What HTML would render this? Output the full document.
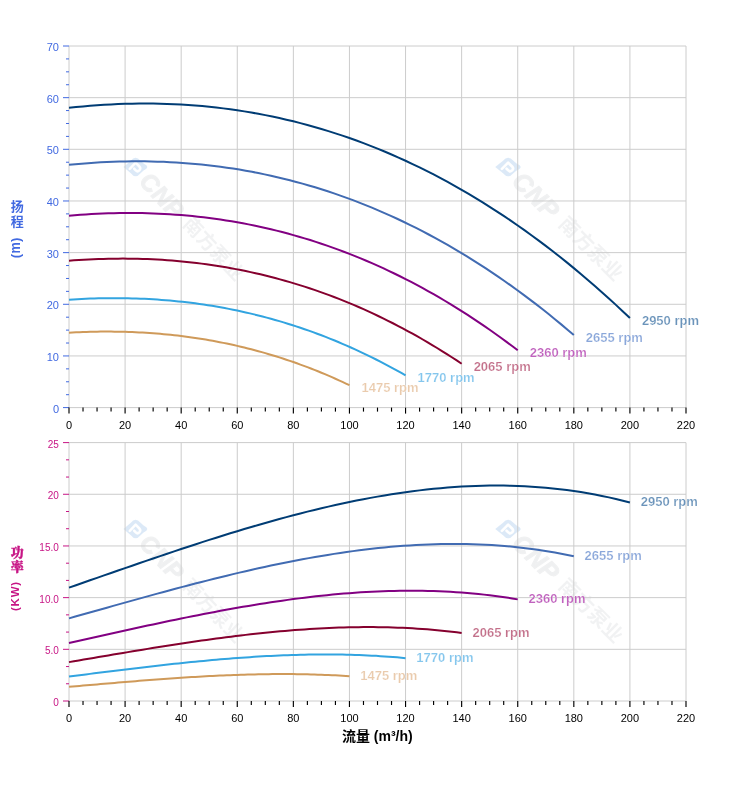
<!DOCTYPE html>
<html lang="zh"><head><meta charset="utf-8"><title>Pump curves</title>
<style>
html,body{margin:0;padding:0;background:#fff;}
svg{display:block;}
text{font-family:"Liberation Sans","Noto Sans CJK SC",sans-serif;}
.xl{font-size:11px;fill:#000;text-anchor:middle;}
.y1{font-size:11px;fill:#4169e1;text-anchor:end;}
.y2{font-size:10px;fill:#c71585;text-anchor:end;}
.lb{font-size:13px;font-weight:bold;stroke:#fff;stroke-width:0.2px;}
.g{stroke:#cccccc;stroke-width:1;fill:none;}
.c{fill:none;stroke-width:2;stroke-linecap:butt;stroke-linejoin:round;}
.wm{font-weight:bold;fill:#8a9aa8;}
</style></head><body>
<svg width="752" height="797" viewBox="0 0 752 797">
<rect width="752" height="797" fill="#fff"/>
<!-- chart 1 : head -->
<g transform="translate(135.5,167) scale(0.94,1) rotate(45)"><g opacity="0.19"><g transform="rotate(-45)"><path d="M-12.8,0 L-5,-6.3 Q0,-12.4 5.4,-6.2 L8.6,-3.5 Q16.6,0 8.6,3.5 L5.4,6.2 Q0,12.4 -5,6.3 Z" fill="#4a90d9"/></g><path d="M-3,5.6 V-3.2 H2.6 A2.7,2.7 0 0 1 2.6,2.2 H0.2" fill="none" stroke="#fff" stroke-width="2.7" stroke-linecap="round" stroke-linejoin="round"/></g><text x="13" y="9" font-size="25" font-weight="bold" font-style="italic" fill="#6f7780" stroke="#6f7780" stroke-width="1.1" letter-spacing="0.5" opacity="0.10">CNP</text><text x="76" y="6" font-size="20" font-weight="bold" fill="#7d858e" letter-spacing="0.3" opacity="0.10">南方泵业</text></g>
<g transform="translate(508,167) scale(1,1) rotate(45)"><g opacity="0.19"><g transform="rotate(-45)"><path d="M-12.8,0 L-5,-6.3 Q0,-12.4 5.4,-6.2 L8.6,-3.5 Q16.6,0 8.6,3.5 L5.4,6.2 Q0,12.4 -5,6.3 Z" fill="#4a90d9"/></g><path d="M-3,5.6 V-3.2 H2.6 A2.7,2.7 0 0 1 2.6,2.2 H0.2" fill="none" stroke="#fff" stroke-width="2.7" stroke-linecap="round" stroke-linejoin="round"/></g><text x="13" y="9" font-size="25" font-weight="bold" font-style="italic" fill="#6f7780" stroke="#6f7780" stroke-width="1.1" letter-spacing="0.5" opacity="0.10">CNP</text><text x="76" y="6" font-size="20" font-weight="bold" fill="#7d858e" letter-spacing="0.3" opacity="0.10">南方泵业</text></g>
<line class="g" x1="69" y1="46" x2="69" y2="407.6"/><line class="g" x1="125.09" y1="46" x2="125.09" y2="407.6"/><line class="g" x1="181.18" y1="46" x2="181.18" y2="407.6"/><line class="g" x1="237.27" y1="46" x2="237.27" y2="407.6"/><line class="g" x1="293.36" y1="46" x2="293.36" y2="407.6"/><line class="g" x1="349.45" y1="46" x2="349.45" y2="407.6"/><line class="g" x1="405.55" y1="46" x2="405.55" y2="407.6"/><line class="g" x1="461.64" y1="46" x2="461.64" y2="407.6"/><line class="g" x1="517.73" y1="46" x2="517.73" y2="407.6"/><line class="g" x1="573.82" y1="46" x2="573.82" y2="407.6"/><line class="g" x1="629.91" y1="46" x2="629.91" y2="407.6"/><line class="g" x1="686" y1="46" x2="686" y2="407.6"/>
<line class="g" x1="69" y1="407.6" x2="686" y2="407.6"/><line class="g" x1="69" y1="355.94" x2="686" y2="355.94"/><line class="g" x1="69" y1="304.29" x2="686" y2="304.29"/><line class="g" x1="69" y1="252.63" x2="686" y2="252.63"/><line class="g" x1="69" y1="200.97" x2="686" y2="200.97"/><line class="g" x1="69" y1="149.31" x2="686" y2="149.31"/><line class="g" x1="69" y1="97.66" x2="686" y2="97.66"/><line class="g" x1="69" y1="46" x2="686" y2="46"/>
<line x1="63" y1="407.6" x2="69" y2="407.6" stroke="#4169e1" stroke-width="1"/><line x1="66" y1="394.69" x2="69" y2="394.69" stroke="#4169e1" stroke-width="1"/><line x1="66" y1="381.77" x2="69" y2="381.77" stroke="#4169e1" stroke-width="1"/><line x1="66" y1="368.86" x2="69" y2="368.86" stroke="#4169e1" stroke-width="1"/><line x1="63" y1="355.94" x2="69" y2="355.94" stroke="#4169e1" stroke-width="1"/><line x1="66" y1="343.03" x2="69" y2="343.03" stroke="#4169e1" stroke-width="1"/><line x1="66" y1="330.11" x2="69" y2="330.11" stroke="#4169e1" stroke-width="1"/><line x1="66" y1="317.2" x2="69" y2="317.2" stroke="#4169e1" stroke-width="1"/><line x1="63" y1="304.29" x2="69" y2="304.29" stroke="#4169e1" stroke-width="1"/><line x1="66" y1="291.37" x2="69" y2="291.37" stroke="#4169e1" stroke-width="1"/><line x1="66" y1="278.46" x2="69" y2="278.46" stroke="#4169e1" stroke-width="1"/><line x1="66" y1="265.54" x2="69" y2="265.54" stroke="#4169e1" stroke-width="1"/><line x1="63" y1="252.63" x2="69" y2="252.63" stroke="#4169e1" stroke-width="1"/><line x1="66" y1="239.71" x2="69" y2="239.71" stroke="#4169e1" stroke-width="1"/><line x1="66" y1="226.8" x2="69" y2="226.8" stroke="#4169e1" stroke-width="1"/><line x1="66" y1="213.89" x2="69" y2="213.89" stroke="#4169e1" stroke-width="1"/><line x1="63" y1="200.97" x2="69" y2="200.97" stroke="#4169e1" stroke-width="1"/><line x1="66" y1="188.06" x2="69" y2="188.06" stroke="#4169e1" stroke-width="1"/><line x1="66" y1="175.14" x2="69" y2="175.14" stroke="#4169e1" stroke-width="1"/><line x1="66" y1="162.23" x2="69" y2="162.23" stroke="#4169e1" stroke-width="1"/><line x1="63" y1="149.31" x2="69" y2="149.31" stroke="#4169e1" stroke-width="1"/><line x1="66" y1="136.4" x2="69" y2="136.4" stroke="#4169e1" stroke-width="1"/><line x1="66" y1="123.49" x2="69" y2="123.49" stroke="#4169e1" stroke-width="1"/><line x1="66" y1="110.57" x2="69" y2="110.57" stroke="#4169e1" stroke-width="1"/><line x1="63" y1="97.66" x2="69" y2="97.66" stroke="#4169e1" stroke-width="1"/><line x1="66" y1="84.74" x2="69" y2="84.74" stroke="#4169e1" stroke-width="1"/><line x1="66" y1="71.83" x2="69" y2="71.83" stroke="#4169e1" stroke-width="1"/><line x1="66" y1="58.91" x2="69" y2="58.91" stroke="#4169e1" stroke-width="1"/><line x1="63" y1="46" x2="69" y2="46" stroke="#4169e1" stroke-width="1"/>
<text class="y1" x="59" y="412.6">0</text><text class="y1" x="59" y="360.94">10</text><text class="y1" x="59" y="309.29">20</text><text class="y1" x="59" y="257.63">30</text><text class="y1" x="59" y="205.97">40</text><text class="y1" x="59" y="154.31">50</text><text class="y1" x="59" y="102.66">60</text><text class="y1" x="59" y="51">70</text>
<line x1="69" y1="407.6" x2="69" y2="413.6" stroke="#000" stroke-width="1.15"/><line x1="83.02" y1="407.6" x2="83.02" y2="411.6" stroke="#000" stroke-width="1.15"/><line x1="97.05" y1="407.6" x2="97.05" y2="411.6" stroke="#000" stroke-width="1.15"/><line x1="111.07" y1="407.6" x2="111.07" y2="411.6" stroke="#000" stroke-width="1.15"/><line x1="125.09" y1="407.6" x2="125.09" y2="413.6" stroke="#000" stroke-width="1.15"/><line x1="139.11" y1="407.6" x2="139.11" y2="411.6" stroke="#000" stroke-width="1.15"/><line x1="153.14" y1="407.6" x2="153.14" y2="411.6" stroke="#000" stroke-width="1.15"/><line x1="167.16" y1="407.6" x2="167.16" y2="411.6" stroke="#000" stroke-width="1.15"/><line x1="181.18" y1="407.6" x2="181.18" y2="413.6" stroke="#000" stroke-width="1.15"/><line x1="195.2" y1="407.6" x2="195.2" y2="411.6" stroke="#000" stroke-width="1.15"/><line x1="209.23" y1="407.6" x2="209.23" y2="411.6" stroke="#000" stroke-width="1.15"/><line x1="223.25" y1="407.6" x2="223.25" y2="411.6" stroke="#000" stroke-width="1.15"/><line x1="237.27" y1="407.6" x2="237.27" y2="413.6" stroke="#000" stroke-width="1.15"/><line x1="251.3" y1="407.6" x2="251.3" y2="411.6" stroke="#000" stroke-width="1.15"/><line x1="265.32" y1="407.6" x2="265.32" y2="411.6" stroke="#000" stroke-width="1.15"/><line x1="279.34" y1="407.6" x2="279.34" y2="411.6" stroke="#000" stroke-width="1.15"/><line x1="293.36" y1="407.6" x2="293.36" y2="413.6" stroke="#000" stroke-width="1.15"/><line x1="307.39" y1="407.6" x2="307.39" y2="411.6" stroke="#000" stroke-width="1.15"/><line x1="321.41" y1="407.6" x2="321.41" y2="411.6" stroke="#000" stroke-width="1.15"/><line x1="335.43" y1="407.6" x2="335.43" y2="411.6" stroke="#000" stroke-width="1.15"/><line x1="349.45" y1="407.6" x2="349.45" y2="413.6" stroke="#000" stroke-width="1.15"/><line x1="363.48" y1="407.6" x2="363.48" y2="411.6" stroke="#000" stroke-width="1.15"/><line x1="377.5" y1="407.6" x2="377.5" y2="411.6" stroke="#000" stroke-width="1.15"/><line x1="391.52" y1="407.6" x2="391.52" y2="411.6" stroke="#000" stroke-width="1.15"/><line x1="405.55" y1="407.6" x2="405.55" y2="413.6" stroke="#000" stroke-width="1.15"/><line x1="419.57" y1="407.6" x2="419.57" y2="411.6" stroke="#000" stroke-width="1.15"/><line x1="433.59" y1="407.6" x2="433.59" y2="411.6" stroke="#000" stroke-width="1.15"/><line x1="447.61" y1="407.6" x2="447.61" y2="411.6" stroke="#000" stroke-width="1.15"/><line x1="461.64" y1="407.6" x2="461.64" y2="413.6" stroke="#000" stroke-width="1.15"/><line x1="475.66" y1="407.6" x2="475.66" y2="411.6" stroke="#000" stroke-width="1.15"/><line x1="489.68" y1="407.6" x2="489.68" y2="411.6" stroke="#000" stroke-width="1.15"/><line x1="503.7" y1="407.6" x2="503.7" y2="411.6" stroke="#000" stroke-width="1.15"/><line x1="517.73" y1="407.6" x2="517.73" y2="413.6" stroke="#000" stroke-width="1.15"/><line x1="531.75" y1="407.6" x2="531.75" y2="411.6" stroke="#000" stroke-width="1.15"/><line x1="545.77" y1="407.6" x2="545.77" y2="411.6" stroke="#000" stroke-width="1.15"/><line x1="559.8" y1="407.6" x2="559.8" y2="411.6" stroke="#000" stroke-width="1.15"/><line x1="573.82" y1="407.6" x2="573.82" y2="413.6" stroke="#000" stroke-width="1.15"/><line x1="587.84" y1="407.6" x2="587.84" y2="411.6" stroke="#000" stroke-width="1.15"/><line x1="601.86" y1="407.6" x2="601.86" y2="411.6" stroke="#000" stroke-width="1.15"/><line x1="615.89" y1="407.6" x2="615.89" y2="411.6" stroke="#000" stroke-width="1.15"/><line x1="629.91" y1="407.6" x2="629.91" y2="413.6" stroke="#000" stroke-width="1.15"/><line x1="643.93" y1="407.6" x2="643.93" y2="411.6" stroke="#000" stroke-width="1.15"/><line x1="657.95" y1="407.6" x2="657.95" y2="411.6" stroke="#000" stroke-width="1.15"/><line x1="671.98" y1="407.6" x2="671.98" y2="411.6" stroke="#000" stroke-width="1.15"/><line x1="686" y1="407.6" x2="686" y2="413.6" stroke="#000" stroke-width="1.15"/>
<text class="xl" x="69" y="429">0</text><text class="xl" x="125.09" y="429">20</text><text class="xl" x="181.18" y="429">40</text><text class="xl" x="237.27" y="429">60</text><text class="xl" x="293.36" y="429">80</text><text class="xl" x="349.45" y="429">100</text><text class="xl" x="405.55" y="429">120</text><text class="xl" x="461.64" y="429">140</text><text class="xl" x="517.73" y="429">160</text><text class="xl" x="573.82" y="429">180</text><text class="xl" x="629.91" y="429">200</text><text class="xl" x="686" y="429">220</text>
<polyline class="c" stroke="#003c74" points="69,107.84 76.01,107.1 83.02,106.43 90.03,105.82 97.05,105.29 104.06,104.82 111.07,104.43 118.08,104.11 125.09,103.86 132.1,103.69 139.11,103.59 146.12,103.56 153.14,103.61 160.15,103.73 167.16,103.93 174.17,104.21 181.18,104.57 188.19,105 195.2,105.51 202.22,106.1 209.23,106.78 216.24,107.53 223.25,108.37 230.26,109.28 237.27,110.28 244.28,111.37 251.3,112.53 258.31,113.79 265.32,115.12 272.33,116.55 279.34,118.06 286.35,119.65 293.36,121.34 300.38,123.11 307.39,124.97 314.4,126.93 321.41,128.97 328.42,131.1 335.43,133.33 342.44,135.65 349.45,138.06 356.47,140.56 363.48,143.16 370.49,145.86 377.5,148.64 384.51,151.53 391.52,154.51 398.53,157.59 405.55,160.77 412.56,164.05 419.57,167.42 426.58,170.9 433.59,174.47 440.6,178.15 447.61,181.93 454.62,185.81 461.64,189.8 468.65,193.89 475.66,198.08 482.67,202.38 489.68,206.78 496.69,211.3 503.7,215.91 510.72,220.64 517.73,225.47 524.74,230.41 531.75,235.47 538.76,240.63 545.77,245.9 552.78,251.29 559.8,256.78 566.81,262.39 573.82,268.11 580.83,273.95 587.84,279.9 594.85,285.97 601.86,292.15 608.88,298.45 615.89,304.87 622.9,311.4 629.91,318.05"/>
<text class="lb" fill="#6a93ba" x="641.91" y="325.15">2950 rpm</text>
<polyline class="c" stroke="#416bb2" points="69,164.8 75.31,164.19 81.62,163.65 87.93,163.16 94.24,162.73 100.55,162.35 106.86,162.03 113.17,161.77 119.48,161.57 125.79,161.43 132.1,161.35 138.41,161.33 144.72,161.37 151.03,161.47 157.34,161.63 163.65,161.85 169.96,162.14 176.27,162.49 182.58,162.91 188.89,163.39 195.2,163.93 201.51,164.54 207.82,165.22 214.14,165.96 220.45,166.77 226.76,167.65 233.07,168.6 239.38,169.61 245.69,170.69 252,171.85 258.31,173.07 264.62,174.36 270.93,175.73 277.24,177.16 283.55,178.67 289.86,180.25 296.17,181.91 302.48,183.64 308.79,185.44 315.1,187.32 321.41,189.27 327.72,191.3 334.03,193.41 340.34,195.59 346.65,197.85 352.96,200.18 359.27,202.6 365.58,205.09 371.89,207.67 378.2,210.32 384.51,213.06 390.82,215.87 397.13,218.77 403.44,221.75 409.75,224.81 416.06,227.95 422.37,231.18 428.68,234.49 434.99,237.89 441.3,241.37 447.61,244.94 453.92,248.59 460.23,252.33 466.54,256.16 472.85,260.08 479.16,264.08 485.48,268.17 491.79,272.35 498.1,276.62 504.41,280.99 510.72,285.44 517.03,289.98 523.34,294.62 529.65,299.34 535.96,304.16 542.27,309.08 548.58,314.09 554.89,319.19 561.2,324.39 567.51,329.68 573.82,335.07"/>
<text class="lb" fill="#8aa7da" x="585.82" y="342.17">2655 rpm</text>
<polyline class="c" stroke="#820082" points="69,215.76 74.61,215.28 80.22,214.85 85.83,214.46 91.44,214.12 97.05,213.82 102.65,213.57 108.26,213.37 113.87,213.21 119.48,213.1 125.09,213.03 130.7,213.01 136.31,213.04 141.92,213.12 147.53,213.25 153.14,213.43 158.75,213.66 164.35,213.94 169.96,214.26 175.57,214.64 181.18,215.07 186.79,215.56 192.4,216.09 198.01,216.68 203.62,217.32 209.23,218.01 214.84,218.76 220.45,219.56 226.05,220.41 231.66,221.33 237.27,222.29 242.88,223.31 248.49,224.39 254.1,225.53 259.71,226.72 265.32,227.97 270.93,229.28 276.54,230.64 282.15,232.07 287.75,233.55 293.36,235.09 298.97,236.7 304.58,238.36 310.19,240.08 315.8,241.87 321.41,243.72 327.02,245.62 332.63,247.6 338.24,249.63 343.85,251.73 349.45,253.89 355.06,256.11 360.67,258.4 366.28,260.75 371.89,263.17 377.5,265.66 383.11,268.21 388.72,270.82 394.33,273.51 399.94,276.26 405.55,279.08 411.15,281.96 416.76,284.92 422.37,287.94 427.98,291.04 433.59,294.2 439.2,297.43 444.81,300.74 450.42,304.11 456.03,307.56 461.64,311.08 467.25,314.67 472.85,318.33 478.46,322.06 484.07,325.87 489.68,329.76 495.29,333.71 500.9,337.74 506.51,341.85 512.12,346.03 517.73,350.29"/>
<text class="lb" fill="#c062be" x="529.73" y="357.39">2360 rpm</text>
<polyline class="c" stroke="#85002e" points="69,260.72 73.91,260.35 78.82,260.02 83.72,259.73 88.63,259.47 93.54,259.24 98.45,259.05 103.36,258.89 108.26,258.77 113.17,258.68 118.08,258.63 122.99,258.62 127.9,258.64 132.8,258.7 137.71,258.8 142.62,258.94 147.53,259.11 152.44,259.33 157.34,259.58 162.25,259.87 167.16,260.2 172.07,260.57 176.97,260.98 181.88,261.42 186.79,261.91 191.7,262.45 196.61,263.02 201.51,263.63 206.42,264.29 211.33,264.98 216.24,265.72 221.15,266.51 226.05,267.33 230.96,268.2 235.87,269.11 240.78,270.07 245.69,271.07 250.59,272.12 255.5,273.21 260.41,274.34 265.32,275.52 270.23,276.75 275.13,278.03 280.04,279.35 284.95,280.71 289.86,282.13 294.77,283.59 299.67,285.1 304.58,286.65 309.49,288.26 314.4,289.91 319.31,291.62 324.21,293.37 329.12,295.17 334.03,297.02 338.94,298.92 343.85,300.88 348.75,302.88 353.66,304.94 358.57,307.04 363.48,309.2 368.39,311.41 373.29,313.67 378.2,315.99 383.11,318.36 388.02,320.78 392.93,323.25 397.83,325.78 402.74,328.37 407.65,331.01 412.56,333.7 417.46,336.45 422.37,339.25 427.28,342.11 432.19,345.03 437.1,348 442,351.03 446.91,354.12 451.82,357.26 456.73,360.46 461.64,363.72"/>
<text class="lb" fill="#c3708a" x="473.64" y="370.82">2065 rpm</text>
<polyline class="c" stroke="#32a4e0" points="69,299.69 73.21,299.42 77.41,299.18 81.62,298.96 85.83,298.77 90.03,298.6 94.24,298.46 98.45,298.34 102.65,298.25 106.86,298.19 111.07,298.15 115.28,298.15 119.48,298.16 123.69,298.21 127.9,298.28 132.1,298.38 136.31,298.51 140.52,298.66 144.72,298.85 148.93,299.06 153.14,299.3 157.34,299.58 161.55,299.88 165.76,300.21 169.96,300.57 174.17,300.96 178.38,301.38 182.58,301.83 186.79,302.31 191,302.82 195.2,303.36 199.41,303.94 203.62,304.55 207.82,305.18 212.03,305.85 216.24,306.56 220.45,307.29 224.65,308.06 228.86,308.86 233.07,309.7 237.27,310.57 241.48,311.47 245.69,312.4 249.89,313.37 254.1,314.38 258.31,315.41 262.51,316.49 266.72,317.6 270.93,318.74 275.13,319.92 279.34,321.14 283.55,322.39 287.75,323.67 291.96,325 296.17,326.36 300.38,327.76 304.58,329.19 308.79,330.66 313,332.17 317.2,333.72 321.41,335.31 325.62,336.93 329.82,338.59 334.03,340.29 338.24,342.03 342.44,343.81 346.65,345.63 350.86,347.49 355.06,349.39 359.27,351.33 363.48,353.31 367.68,355.32 371.89,357.39 376.1,359.49 380.3,361.63 384.51,363.81 388.72,366.04 392.93,368.31 397.13,370.62 401.34,372.97 405.55,375.36"/>
<text class="lb" fill="#84c6ed" x="417.55" y="382.46">1770 rpm</text>
<polyline class="c" stroke="#cf9a5a" points="69,332.66 72.51,332.47 76.01,332.31 79.52,332.16 83.02,332.02 86.53,331.91 90.03,331.81 93.54,331.73 97.05,331.67 100.55,331.62 104.06,331.6 107.56,331.59 111.07,331.6 114.57,331.63 118.08,331.68 121.59,331.75 125.09,331.84 128.6,331.95 132.1,332.08 135.61,332.23 139.11,332.39 142.62,332.58 146.12,332.79 149.63,333.02 153.14,333.27 156.64,333.54 160.15,333.83 163.65,334.15 167.16,334.48 170.66,334.84 174.17,335.21 177.68,335.61 181.18,336.03 184.69,336.48 188.19,336.94 191.7,337.43 195.2,337.94 198.71,338.48 202.22,339.03 205.72,339.61 209.23,340.21 212.73,340.84 216.24,341.49 219.74,342.16 223.25,342.86 226.76,343.58 230.26,344.33 233.77,345.1 237.27,345.89 240.78,346.71 244.28,347.56 247.79,348.42 251.3,349.32 254.8,350.24 258.31,351.18 261.81,352.15 265.32,353.15 268.82,354.17 272.33,355.22 275.84,356.3 279.34,357.4 282.85,358.52 286.35,359.68 289.86,360.86 293.36,362.07 296.87,363.3 300.38,364.57 303.88,365.86 307.39,367.18 310.89,368.52 314.4,369.9 317.9,371.3 321.41,372.73 324.91,374.19 328.42,375.68 331.93,377.19 335.43,378.74 338.94,380.31 342.44,381.92 345.95,383.55 349.45,385.21"/>
<text class="lb" fill="#eacbad" x="361.45" y="392.31">1475 rpm</text>
<!-- chart 2 : power -->
<g transform="translate(135.5,529) scale(0.94,1) rotate(45)"><g opacity="0.19"><g transform="rotate(-45)"><path d="M-12.8,0 L-5,-6.3 Q0,-12.4 5.4,-6.2 L8.6,-3.5 Q16.6,0 8.6,3.5 L5.4,6.2 Q0,12.4 -5,6.3 Z" fill="#4a90d9"/></g><path d="M-3,5.6 V-3.2 H2.6 A2.7,2.7 0 0 1 2.6,2.2 H0.2" fill="none" stroke="#fff" stroke-width="2.7" stroke-linecap="round" stroke-linejoin="round"/></g><text x="13" y="9" font-size="25" font-weight="bold" font-style="italic" fill="#6f7780" stroke="#6f7780" stroke-width="1.1" letter-spacing="0.5" opacity="0.10">CNP</text><text x="76" y="6" font-size="20" font-weight="bold" fill="#7d858e" letter-spacing="0.3" opacity="0.10">南方泵业</text></g>
<g transform="translate(508,529) scale(1,1) rotate(45)"><g opacity="0.19"><g transform="rotate(-45)"><path d="M-12.8,0 L-5,-6.3 Q0,-12.4 5.4,-6.2 L8.6,-3.5 Q16.6,0 8.6,3.5 L5.4,6.2 Q0,12.4 -5,6.3 Z" fill="#4a90d9"/></g><path d="M-3,5.6 V-3.2 H2.6 A2.7,2.7 0 0 1 2.6,2.2 H0.2" fill="none" stroke="#fff" stroke-width="2.7" stroke-linecap="round" stroke-linejoin="round"/></g><text x="13" y="9" font-size="25" font-weight="bold" font-style="italic" fill="#6f7780" stroke="#6f7780" stroke-width="1.1" letter-spacing="0.5" opacity="0.10">CNP</text><text x="76" y="6" font-size="20" font-weight="bold" fill="#7d858e" letter-spacing="0.3" opacity="0.10">南方泵业</text></g>
<line class="g" x1="69" y1="442.6" x2="69" y2="701"/><line class="g" x1="125.09" y1="442.6" x2="125.09" y2="701"/><line class="g" x1="181.18" y1="442.6" x2="181.18" y2="701"/><line class="g" x1="237.27" y1="442.6" x2="237.27" y2="701"/><line class="g" x1="293.36" y1="442.6" x2="293.36" y2="701"/><line class="g" x1="349.45" y1="442.6" x2="349.45" y2="701"/><line class="g" x1="405.55" y1="442.6" x2="405.55" y2="701"/><line class="g" x1="461.64" y1="442.6" x2="461.64" y2="701"/><line class="g" x1="517.73" y1="442.6" x2="517.73" y2="701"/><line class="g" x1="573.82" y1="442.6" x2="573.82" y2="701"/><line class="g" x1="629.91" y1="442.6" x2="629.91" y2="701"/><line class="g" x1="686" y1="442.6" x2="686" y2="701"/>
<line class="g" x1="69" y1="701" x2="686" y2="701"/><line class="g" x1="69" y1="649.32" x2="686" y2="649.32"/><line class="g" x1="69" y1="597.64" x2="686" y2="597.64"/><line class="g" x1="69" y1="545.96" x2="686" y2="545.96"/><line class="g" x1="69" y1="494.28" x2="686" y2="494.28"/><line class="g" x1="69" y1="442.6" x2="686" y2="442.6"/>
<line x1="63" y1="701" x2="69" y2="701" stroke="#c71585" stroke-width="1"/><line x1="66" y1="683.77" x2="69" y2="683.77" stroke="#c71585" stroke-width="1"/><line x1="66" y1="666.55" x2="69" y2="666.55" stroke="#c71585" stroke-width="1"/><line x1="63" y1="649.32" x2="69" y2="649.32" stroke="#c71585" stroke-width="1"/><line x1="66" y1="632.09" x2="69" y2="632.09" stroke="#c71585" stroke-width="1"/><line x1="66" y1="614.87" x2="69" y2="614.87" stroke="#c71585" stroke-width="1"/><line x1="63" y1="597.64" x2="69" y2="597.64" stroke="#c71585" stroke-width="1"/><line x1="66" y1="580.41" x2="69" y2="580.41" stroke="#c71585" stroke-width="1"/><line x1="66" y1="563.19" x2="69" y2="563.19" stroke="#c71585" stroke-width="1"/><line x1="63" y1="545.96" x2="69" y2="545.96" stroke="#c71585" stroke-width="1"/><line x1="66" y1="528.73" x2="69" y2="528.73" stroke="#c71585" stroke-width="1"/><line x1="66" y1="511.51" x2="69" y2="511.51" stroke="#c71585" stroke-width="1"/><line x1="63" y1="494.28" x2="69" y2="494.28" stroke="#c71585" stroke-width="1"/><line x1="66" y1="477.05" x2="69" y2="477.05" stroke="#c71585" stroke-width="1"/><line x1="66" y1="459.83" x2="69" y2="459.83" stroke="#c71585" stroke-width="1"/><line x1="63" y1="442.6" x2="69" y2="442.6" stroke="#c71585" stroke-width="1"/>
<text class="y2" x="58.8" y="706">0</text><text class="y2" x="58.8" y="654.32">5.0</text><text class="y2" x="58.8" y="602.64">10.0</text><text class="y2" x="58.8" y="550.96">15.0</text><text class="y2" x="58.8" y="499.28">20</text><text class="y2" x="58.8" y="447.6">25</text>
<line x1="69" y1="701" x2="69" y2="707" stroke="#000" stroke-width="1.15"/><line x1="83.02" y1="701" x2="83.02" y2="705" stroke="#000" stroke-width="1.15"/><line x1="97.05" y1="701" x2="97.05" y2="705" stroke="#000" stroke-width="1.15"/><line x1="111.07" y1="701" x2="111.07" y2="705" stroke="#000" stroke-width="1.15"/><line x1="125.09" y1="701" x2="125.09" y2="707" stroke="#000" stroke-width="1.15"/><line x1="139.11" y1="701" x2="139.11" y2="705" stroke="#000" stroke-width="1.15"/><line x1="153.14" y1="701" x2="153.14" y2="705" stroke="#000" stroke-width="1.15"/><line x1="167.16" y1="701" x2="167.16" y2="705" stroke="#000" stroke-width="1.15"/><line x1="181.18" y1="701" x2="181.18" y2="707" stroke="#000" stroke-width="1.15"/><line x1="195.2" y1="701" x2="195.2" y2="705" stroke="#000" stroke-width="1.15"/><line x1="209.23" y1="701" x2="209.23" y2="705" stroke="#000" stroke-width="1.15"/><line x1="223.25" y1="701" x2="223.25" y2="705" stroke="#000" stroke-width="1.15"/><line x1="237.27" y1="701" x2="237.27" y2="707" stroke="#000" stroke-width="1.15"/><line x1="251.3" y1="701" x2="251.3" y2="705" stroke="#000" stroke-width="1.15"/><line x1="265.32" y1="701" x2="265.32" y2="705" stroke="#000" stroke-width="1.15"/><line x1="279.34" y1="701" x2="279.34" y2="705" stroke="#000" stroke-width="1.15"/><line x1="293.36" y1="701" x2="293.36" y2="707" stroke="#000" stroke-width="1.15"/><line x1="307.39" y1="701" x2="307.39" y2="705" stroke="#000" stroke-width="1.15"/><line x1="321.41" y1="701" x2="321.41" y2="705" stroke="#000" stroke-width="1.15"/><line x1="335.43" y1="701" x2="335.43" y2="705" stroke="#000" stroke-width="1.15"/><line x1="349.45" y1="701" x2="349.45" y2="707" stroke="#000" stroke-width="1.15"/><line x1="363.48" y1="701" x2="363.48" y2="705" stroke="#000" stroke-width="1.15"/><line x1="377.5" y1="701" x2="377.5" y2="705" stroke="#000" stroke-width="1.15"/><line x1="391.52" y1="701" x2="391.52" y2="705" stroke="#000" stroke-width="1.15"/><line x1="405.55" y1="701" x2="405.55" y2="707" stroke="#000" stroke-width="1.15"/><line x1="419.57" y1="701" x2="419.57" y2="705" stroke="#000" stroke-width="1.15"/><line x1="433.59" y1="701" x2="433.59" y2="705" stroke="#000" stroke-width="1.15"/><line x1="447.61" y1="701" x2="447.61" y2="705" stroke="#000" stroke-width="1.15"/><line x1="461.64" y1="701" x2="461.64" y2="707" stroke="#000" stroke-width="1.15"/><line x1="475.66" y1="701" x2="475.66" y2="705" stroke="#000" stroke-width="1.15"/><line x1="489.68" y1="701" x2="489.68" y2="705" stroke="#000" stroke-width="1.15"/><line x1="503.7" y1="701" x2="503.7" y2="705" stroke="#000" stroke-width="1.15"/><line x1="517.73" y1="701" x2="517.73" y2="707" stroke="#000" stroke-width="1.15"/><line x1="531.75" y1="701" x2="531.75" y2="705" stroke="#000" stroke-width="1.15"/><line x1="545.77" y1="701" x2="545.77" y2="705" stroke="#000" stroke-width="1.15"/><line x1="559.8" y1="701" x2="559.8" y2="705" stroke="#000" stroke-width="1.15"/><line x1="573.82" y1="701" x2="573.82" y2="707" stroke="#000" stroke-width="1.15"/><line x1="587.84" y1="701" x2="587.84" y2="705" stroke="#000" stroke-width="1.15"/><line x1="601.86" y1="701" x2="601.86" y2="705" stroke="#000" stroke-width="1.15"/><line x1="615.89" y1="701" x2="615.89" y2="705" stroke="#000" stroke-width="1.15"/><line x1="629.91" y1="701" x2="629.91" y2="707" stroke="#000" stroke-width="1.15"/><line x1="643.93" y1="701" x2="643.93" y2="705" stroke="#000" stroke-width="1.15"/><line x1="657.95" y1="701" x2="657.95" y2="705" stroke="#000" stroke-width="1.15"/><line x1="671.98" y1="701" x2="671.98" y2="705" stroke="#000" stroke-width="1.15"/><line x1="686" y1="701" x2="686" y2="707" stroke="#000" stroke-width="1.15"/>
<text class="xl" x="69" y="722.4">0</text><text class="xl" x="125.09" y="722.4">20</text><text class="xl" x="181.18" y="722.4">40</text><text class="xl" x="237.27" y="722.4">60</text><text class="xl" x="293.36" y="722.4">80</text><text class="xl" x="349.45" y="722.4">100</text><text class="xl" x="405.55" y="722.4">120</text><text class="xl" x="461.64" y="722.4">140</text><text class="xl" x="517.73" y="722.4">160</text><text class="xl" x="573.82" y="722.4">180</text><text class="xl" x="629.91" y="722.4">200</text><text class="xl" x="686" y="722.4">220</text>
<polyline class="c" stroke="#003c74" points="69,587.63 76.01,585.2 83.02,582.76 90.03,580.31 97.05,577.87 104.06,575.43 111.07,572.99 118.08,570.55 125.09,568.12 132.1,565.7 139.11,563.29 146.12,560.88 153.14,558.49 160.15,556.11 167.16,553.74 174.17,551.39 181.18,549.06 188.19,546.74 195.2,544.44 202.22,542.17 209.23,539.92 216.24,537.69 223.25,535.49 230.26,533.32 237.27,531.18 244.28,529.06 251.3,526.98 258.31,524.93 265.32,522.92 272.33,520.94 279.34,519 286.35,517.1 293.36,515.24 300.38,513.42 307.39,511.65 314.4,509.92 321.41,508.23 328.42,506.6 335.43,505.01 342.44,503.48 349.45,502 356.47,500.57 363.48,499.2 370.49,497.88 377.5,496.62 384.51,495.42 391.52,494.29 398.53,493.21 405.55,492.2 412.56,491.26 419.57,490.38 426.58,489.57 433.59,488.83 440.6,488.16 447.61,487.57 454.62,487.05 461.64,486.6 468.65,486.24 475.66,485.95 482.67,485.74 489.68,485.61 496.69,485.57 503.7,485.61 510.72,485.74 517.73,485.95 524.74,486.26 531.75,486.65 538.76,487.14 545.77,487.72 552.78,488.4 559.8,489.17 566.81,490.04 573.82,491.01 580.83,492.08 587.84,493.25 594.85,494.52 601.86,495.91 608.88,497.39 615.89,498.99 622.9,500.7 629.91,502.51"/>
<text class="lb" fill="#6a93ba" x="640.71" y="506.21">2950 rpm</text>
<polyline class="c" stroke="#416bb2" points="69,618.36 75.31,616.58 81.62,614.8 87.93,613.02 94.24,611.24 100.55,609.46 106.86,607.68 113.17,605.91 119.48,604.13 125.79,602.37 132.1,600.61 138.41,598.85 144.72,597.11 151.03,595.37 157.34,593.65 163.65,591.93 169.96,590.23 176.27,588.54 182.58,586.87 188.89,585.21 195.2,583.57 201.51,581.95 207.82,580.35 214.14,578.76 220.45,577.2 226.76,575.66 233.07,574.14 239.38,572.65 245.69,571.18 252,569.74 258.31,568.32 264.62,566.94 270.93,565.58 277.24,564.26 283.55,562.96 289.86,561.7 296.17,560.47 302.48,559.28 308.79,558.13 315.1,557.01 321.41,555.93 327.72,554.89 334.03,553.88 340.34,552.92 346.65,552.01 352.96,551.13 359.27,550.31 365.58,549.52 371.89,548.79 378.2,548.1 384.51,547.46 390.82,546.87 397.13,546.33 403.44,545.84 409.75,545.41 416.06,545.03 422.37,544.7 428.68,544.44 434.99,544.23 441.3,544.07 447.61,543.98 453.92,543.95 460.23,543.98 466.54,544.07 472.85,544.23 479.16,544.45 485.48,544.74 491.79,545.1 498.1,545.52 504.41,546.01 510.72,546.57 517.03,547.21 523.34,547.91 529.65,548.69 535.96,549.55 542.27,550.48 548.58,551.49 554.89,552.57 561.2,553.73 567.51,554.98 573.82,556.3"/>
<text class="lb" fill="#8aa7da" x="584.62" y="560">2655 rpm</text>
<polyline class="c" stroke="#820082" points="69,642.96 74.61,641.71 80.22,640.46 85.83,639.21 91.44,637.96 97.05,636.71 102.65,635.46 108.26,634.21 113.87,632.97 119.48,631.73 125.09,630.49 130.7,629.26 136.31,628.03 141.92,626.81 147.53,625.6 153.14,624.4 158.75,623.2 164.35,622.02 169.96,620.84 175.57,619.68 181.18,618.53 186.79,617.39 192.4,616.26 198.01,615.15 203.62,614.05 209.23,612.97 214.84,611.9 220.45,610.85 226.05,609.82 231.66,608.81 237.27,607.82 242.88,606.84 248.49,605.89 254.1,604.96 259.71,604.05 265.32,603.17 270.93,602.3 276.54,601.47 282.15,600.66 287.75,599.87 293.36,599.11 298.97,598.38 304.58,597.68 310.19,597 315.8,596.36 321.41,595.74 327.02,595.16 332.63,594.61 338.24,594.09 343.85,593.61 349.45,593.16 355.06,592.75 360.67,592.37 366.28,592.03 371.89,591.72 377.5,591.46 383.11,591.23 388.72,591.04 394.33,590.89 399.94,590.79 405.55,590.72 411.15,590.7 416.76,590.72 422.37,590.79 427.98,590.9 433.59,591.05 439.2,591.25 444.81,591.5 450.42,591.8 456.03,592.15 461.64,592.54 467.25,592.99 472.85,593.48 478.46,594.03 484.07,594.63 489.68,595.28 495.29,595.99 500.9,596.75 506.51,597.57 512.12,598.44 517.73,599.37"/>
<text class="lb" fill="#c062be" x="528.53" y="603.07">2360 rpm</text>
<polyline class="c" stroke="#85002e" points="69,662.12 73.91,661.28 78.82,660.44 83.72,659.6 88.63,658.77 93.54,657.93 98.45,657.09 103.36,656.26 108.26,655.42 113.17,654.59 118.08,653.76 122.99,652.94 127.9,652.12 132.8,651.3 137.71,650.49 142.62,649.68 147.53,648.88 152.44,648.09 157.34,647.3 162.25,646.52 167.16,645.75 172.07,644.99 176.97,644.23 181.88,643.49 186.79,642.75 191.7,642.03 196.61,641.31 201.51,640.61 206.42,639.92 211.33,639.24 216.24,638.57 221.15,637.92 226.05,637.28 230.96,636.66 235.87,636.05 240.78,635.46 245.69,634.88 250.59,634.32 255.5,633.78 260.41,633.25 265.32,632.74 270.23,632.25 275.13,631.78 280.04,631.33 284.95,630.9 289.86,630.49 294.77,630.1 299.67,629.73 304.58,629.38 309.49,629.06 314.4,628.76 319.31,628.48 324.21,628.23 329.12,628 334.03,627.79 338.94,627.61 343.85,627.46 348.75,627.34 353.66,627.24 358.57,627.17 363.48,627.12 368.39,627.11 373.29,627.12 378.2,627.17 383.11,627.24 388.02,627.34 392.93,627.48 397.83,627.65 402.74,627.85 407.65,628.08 412.56,628.34 417.46,628.64 422.37,628.97 427.28,629.34 432.19,629.74 437.1,630.18 442,630.65 446.91,631.16 451.82,631.71 456.73,632.3 461.64,632.92"/>
<text class="lb" fill="#c3708a" x="472.44" y="636.62">2065 rpm</text>
<polyline class="c" stroke="#32a4e0" points="69,676.51 73.21,675.99 77.41,675.46 81.62,674.93 85.83,674.4 90.03,673.88 94.24,673.35 98.45,672.82 102.65,672.3 106.86,671.78 111.07,671.25 115.28,670.73 119.48,670.22 123.69,669.7 127.9,669.19 132.1,668.68 136.31,668.18 140.52,667.68 144.72,667.18 148.93,666.69 153.14,666.21 157.34,665.73 161.55,665.25 165.76,664.78 169.96,664.32 174.17,663.86 178.38,663.41 182.58,662.97 186.79,662.53 191,662.11 195.2,661.69 199.41,661.28 203.62,660.88 207.82,660.48 212.03,660.1 216.24,659.73 220.45,659.36 224.65,659.01 228.86,658.67 233.07,658.34 237.27,658.02 241.48,657.71 245.69,657.41 249.89,657.13 254.1,656.85 258.31,656.6 262.51,656.35 266.72,656.12 270.93,655.9 275.13,655.7 279.34,655.51 283.55,655.33 287.75,655.17 291.96,655.03 296.17,654.9 300.38,654.79 304.58,654.69 308.79,654.61 313,654.55 317.2,654.5 321.41,654.48 325.62,654.47 329.82,654.48 334.03,654.5 338.24,654.55 342.44,654.62 346.65,654.7 350.86,654.81 355.06,654.93 359.27,655.08 363.48,655.24 367.68,655.43 371.89,655.64 376.1,655.87 380.3,656.13 384.51,656.4 388.72,656.7 392.93,657.02 397.13,657.37 401.34,657.73 405.55,658.13"/>
<text class="lb" fill="#84c6ed" x="416.35" y="661.83">1770 rpm</text>
<polyline class="c" stroke="#cf9a5a" points="69,686.83 72.51,686.52 76.01,686.22 79.52,685.91 83.02,685.61 86.53,685.3 90.03,685 93.54,684.69 97.05,684.39 100.55,684.09 104.06,683.79 107.56,683.49 111.07,683.19 114.57,682.89 118.08,682.59 121.59,682.3 125.09,682.01 128.6,681.72 132.1,681.43 135.61,681.15 139.11,680.86 142.62,680.59 146.12,680.31 149.63,680.04 153.14,679.77 156.64,679.51 160.15,679.25 163.65,678.99 167.16,678.74 170.66,678.49 174.17,678.25 177.68,678.01 181.18,677.78 184.69,677.55 188.19,677.33 191.7,677.11 195.2,676.9 198.71,676.7 202.22,676.5 205.72,676.31 209.23,676.12 212.73,675.95 216.24,675.77 219.74,675.61 223.25,675.45 226.76,675.3 230.26,675.16 233.77,675.03 237.27,674.9 240.78,674.78 244.28,674.67 247.79,674.57 251.3,674.48 254.8,674.4 258.31,674.32 261.81,674.26 265.32,674.2 268.82,674.15 272.33,674.12 275.84,674.09 279.34,674.08 282.85,674.07 286.35,674.08 289.86,674.09 293.36,674.12 296.87,674.16 300.38,674.21 303.88,674.27 307.39,674.34 310.89,674.42 314.4,674.52 317.9,674.63 321.41,674.75 324.91,674.88 328.42,675.03 331.93,675.19 335.43,675.36 338.94,675.55 342.44,675.75 345.95,675.96 349.45,676.19"/>
<text class="lb" fill="#eacbad" x="360.25" y="679.89">1475 rpm</text>
<g fill="#4169e1" font-weight="bold" font-size="13"><text x="17.3" y="211" text-anchor="middle">扬</text><text x="17.3" y="225.8" text-anchor="middle">程</text><g transform="translate(20,258.2) rotate(-90)"><text x="0" y="0">(</text><text transform="translate(4.6,0) scale(0.97,1.17)" x="0" y="0">m</text><text x="16.3" y="0">)</text></g></g>
<g fill="#c71585" font-weight="bold" font-size="13"><text x="17.3" y="557" text-anchor="middle" style="font-family:'Liberation Serif','Noto Serif CJK SC',serif;font-weight:900;stroke:#c71585;stroke-width:0.35px">功</text><text x="17.3" y="570.8" text-anchor="middle" style="font-family:'Liberation Serif','Noto Serif CJK SC',serif;font-weight:900;stroke:#c71585;stroke-width:0.35px">率</text><text transform="translate(19,611) rotate(-90)" font-size="11.5" textLength="29.2" lengthAdjust="spacing">(KW)</text></g>
<text x="377.3" y="740.6" text-anchor="middle" font-weight="bold" font-size="14" fill="#000">流量 (m³/h)</text>
</svg>
</body></html>
